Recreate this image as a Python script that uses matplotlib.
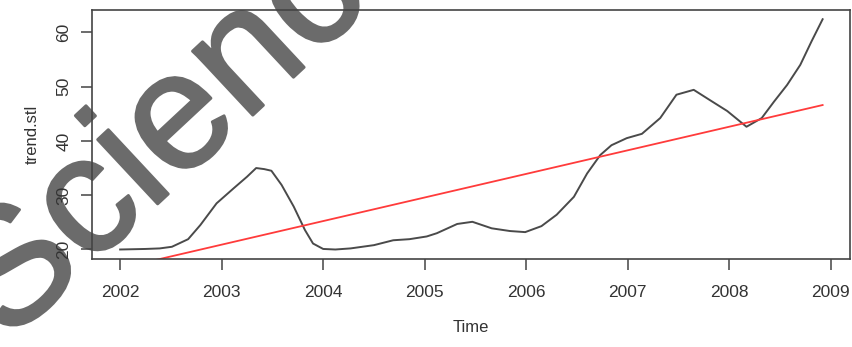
import matplotlib
matplotlib.use("Agg")
import matplotlib.pyplot as plt
import matplotlib.patheffects as pe
import numpy as np

plt.rcParams['font.family'] = ['Liberation Sans', 'DejaVu Sans']

# trend component (decimal years)
time = [2002.00, 2002.25, 2002.39, 2002.51, 2002.67, 2002.79, 2002.95, 2003.12,
        2003.25, 2003.34, 2003.42, 2003.49, 2003.59, 2003.71, 2003.82, 2003.90,
        2004.00, 2004.12, 2004.27, 2004.50, 2004.69, 2004.85, 2005.02, 2005.12,
        2005.32, 2005.47, 2005.66, 2005.84, 2005.99, 2006.15, 2006.30, 2006.47,
        2006.60, 2006.73, 2006.84, 2006.99, 2007.14, 2007.32, 2007.48, 2007.65,
        2007.81, 2007.98, 2008.17, 2008.32, 2008.44, 2008.57, 2008.70, 2008.81,
        2008.92]
trend_stl = [20.0, 20.1, 20.2, 20.5, 21.9, 24.5, 28.5, 31.3,
             33.4, 35.0, 34.8, 34.5, 31.9, 27.9, 23.6, 21.1,
             20.1, 20.0, 20.2, 20.8, 21.7, 21.9, 22.4, 23.0,
             24.7, 25.1, 23.9, 23.4, 23.2, 24.3, 26.4, 29.7,
             34.0, 37.4, 39.2, 40.5, 41.3, 44.2, 48.5, 49.4,
             47.5, 45.5, 42.6, 44.2, 47.2, 50.3, 54.0, 58.3,
             62.4]

# fitted linear trend, end points
fit_time = [2002.0, 2008.92]
fit_value = [16.55, 46.6]

xticks = [2002, 2003, 2004, 2005, 2006, 2007, 2008, 2009]
yticks = [20, 30, 40, 50, 60]

fig = plt.figure(figsize=(8.52, 3.47), dpi=100)
ax = fig.add_axes([0.108, 0.2536, 0.8897, 0.7176])
ax.set_facecolor('none')

ax.plot(time, trend_stl, color='#4a4a4a', lw=1.4)
ax.plot(fit_time, fit_value, color='#ff3b3b', lw=1.3)

ax.set_xlim(2001.723, 2009.19)
ax.set_ylim(18.25, 64.1)
ax.set_xticks(xticks)
ax.set_yticks(yticks)
ax.set_yticklabels([str(v) for v in yticks], rotation=90, va='center')
ax.tick_params(direction='out', length=8, width=1.1, colors='#444444',
               labelcolor='#333333', labelsize=12.5)
ax.tick_params(axis='x', pad=11)
ax.tick_params(axis='y', pad=7)
for s in ax.spines.values():
    s.set_color('#444444')
    s.set_linewidth(1.2)

ax.set_xlabel('Time', fontsize=12, color='#333333', labelpad=14)
ax.set_ylabel('trend.stl', fontsize=12, color='#333333', labelpad=12)

# watermark, sits under the axes
wm = '#6b6b6b'
fig.text(0.0085, 0.008, 'Science', fontsize=120, color=wm,
         rotation=43, rotation_mode='anchor', ha='left', va='baseline',
         zorder=-5, path_effects=[pe.withStroke(linewidth=2, foreground=wm)])

fig.savefig('out.png', dpi=100)
